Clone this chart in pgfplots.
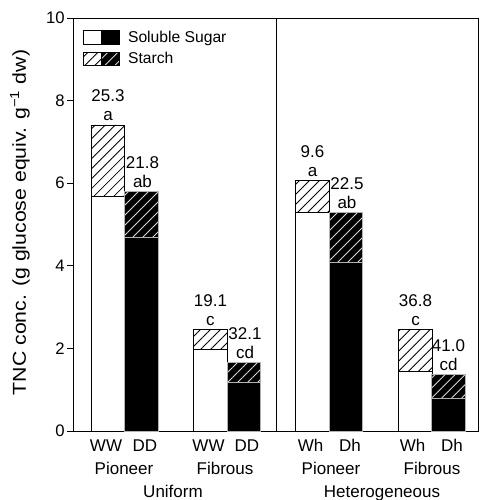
\documentclass[border=0pt]{standalone}
\usepackage{pgfplots}
\pgfplotsset{compat=1.18}
\usetikzlibrary{patterns.meta}
\usepackage{fontspec}
\setmainfont{Liberation Sans}

\tikzset{
 hatchW/.style={fill=white, postaction={pattern color=black, pattern={Lines[angle=45,distance=5.3pt,line width=0.65pt]}}},
 hatchD/.style={fill=black, postaction={pattern color=white!85!black, pattern={Lines[angle=45,distance=5.3pt,line width=0.65pt]}}},
}
\newcommand{\lab}[4]{%
 \node[anchor=base,yshift=17.25pt] at (axis cs:#1,#2) {#3};
 \node[anchor=base,yshift=3pt] at (axis cs:#1,#2) {#4};}

\begin{document}
\fontsize{12.75}{15}\selectfont
\begin{tikzpicture}
\useasboundingbox (-54.75pt,-51.75pt) rectangle (304.5pt,323.25pt);
\begin{axis}[
 width=303.75pt, height=309.75pt, scale only axis,
 xmin=73, xmax=478, ymin=0, ymax=10,
 ytick={0,2,4,6,8,10}, xtick=\empty,
 tick align=outside, ytick pos=left,
 major tick length=4.5pt,
 axis line style={line width=0.7pt},
 every tick/.style={line width=0.7pt, black},
 yticklabel style={inner sep=1.5pt, font=\fontsize{12.5}{15}\selectfont},
 /pgf/number format/assume math mode=true,
 ylabel={\scalebox{1.14}[1]{TNC conc. (g glucose equiv. g\textsuperscript{−1} dw)}},
 ylabel style={at={(axis description cs:-0.131,0.505)}, anchor=center, font=\fontsize{14}{16}\selectfont},
 clip=false,
 legend style={at={(axis description cs:0,1)}, xshift=7.5pt, yshift=-7.3pt,
   anchor=north west, draw=none, fill=none, inner sep=0pt, row sep=1.5pt,
   font=\fontsize{11.75}{14}\selectfont,
   /tikz/every odd column/.append style={column sep=4pt}},
 legend cell align=left,
]
\addlegendimage{legend image code/.code={
  \draw[black,fill=white,line width=0.6pt] (0pt,-5.1pt) rectangle (13.5pt,5.1pt);
  \draw[black,fill=black,line width=0.6pt] (13.5pt,-5.1pt) rectangle (27pt,5.1pt);}}
\addlegendentry{Soluble Sugar}
\addlegendimage{legend image code/.code={
  \draw[black,line width=0.6pt,hatchW] (0pt,-5.1pt) rectangle (13.5pt,5.1pt);
  \draw[black,line width=0.6pt,hatchD] (13.5pt,-5.1pt) rectangle (27pt,5.1pt);}}
\addlegendentry{Starch}

% W bars: total (starch on top), then soluble sugar
\addplot[ybar, bar width=33.5, bar shift=0pt, draw=black, line width=0.6pt, hatchW, forget plot]
 coordinates {(108,7.41) (210.5,2.45) (312.5,6.06) (415.5,2.45)};
\addplot[ybar, bar width=33.5, bar shift=0pt, draw=black, line width=0.6pt, fill=white, forget plot]
 coordinates {(108,5.69) (210.5,1.98) (312.5,5.29) (415.5,1.45)};
% D bars
\addplot[ybar, bar width=33.5, bar shift=0pt, draw=gray!60, line width=0.6pt, hatchD, forget plot]
 coordinates {(141.5,5.81) (244,1.66) (346,5.29) (448.5,1.36)};
\addplot[ybar, bar width=33.5, bar shift=0pt, draw=gray!60, line width=0.6pt, fill=black, forget plot]
 coordinates {(141.5,4.68) (244,1.17) (346,4.08) (448.5,0.79)};

% divider
\addplot[black, line width=0.7pt, forget plot] coordinates {(276,0) (276,10)};

\lab{108}{7.41}{25.3}{a}
\lab{142.5}{5.81}{21.8}{ab}
\lab{210.5}{2.45}{19.1}{c}
\lab{245}{1.66}{32.1}{cd}
\lab{312.5}{6.06}{9.6}{a}
\lab{347}{5.29}{22.5}{ab}
\lab{415.5}{2.45}{36.8}{c}
\lab{448.5}{1.36}{41.0}{cd}

% x labels
\foreach \x/\t in {106/WW,145/DD,208.5/WW,247/DD,310.5/Wh,350/Dh,412.5/Wh,452/Dh}{
  \edef\tmp{\noexpand\node[anchor=base,yshift=-15pt] at (axis cs:\x,0) {\t};}\tmp}
\node[anchor=base,yshift=-32.25pt] at (axis cs:124,0) {Pioneer};
\node[anchor=base,yshift=-32.25pt] at (axis cs:225,0) {Fibrous};
\node[anchor=base,yshift=-32.25pt] at (axis cs:331,0) {Pioneer};
\node[anchor=base,yshift=-32.25pt] at (axis cs:432,0) {Fibrous};
\node[anchor=base,yshift=-49.5pt] at (axis cs:173,0) {Uniform};
\node[anchor=base,yshift=-49.5pt] at (axis cs:382,0) {Heterogeneous};
\end{axis}
\end{tikzpicture}
\end{document}
